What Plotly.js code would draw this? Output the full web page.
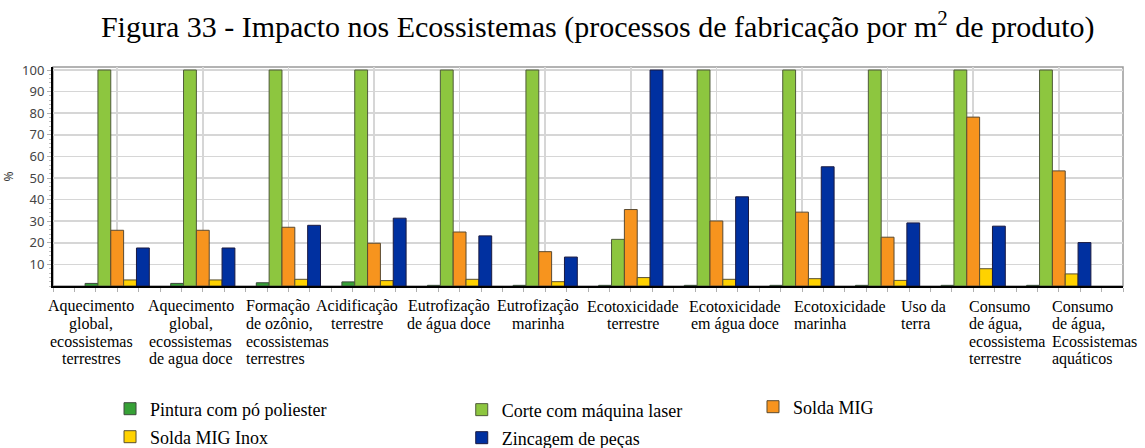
<!DOCTYPE html>
<html><head><meta charset="utf-8">
<script src="https://cdn.plot.ly/plotly-3.0.1.min.js"></script>
<style>html,body{margin:0;padding:0;background:#fff}</style>
</head><body><div id="chart" style="width:1145px;height:448px"></div>
<script>
// ---- data ----
const categories = [
  "Aquecimento global, ecossistemas terrestres",
  "Aquecimento global, ecossistemas de agua doce",
  "Formação de ozônio, ecossistemas terrestres",
  "Acidificação terrestre",
  "Eutrofização de água doce",
  "Eutrofização marinha",
  "Ecotoxicidade terrestre",
  "Ecotoxicidade em água doce",
  "Ecotoxicidade marinha",
  "Uso da terra",
  "Consumo de água, ecossistema terrestre",
  "Consumo de água, Ecossistemas aquáticos"
];
const tickLabelLines = [
  ["Aquecimento","global,","ecossistemas","terrestres"],
  ["Aquecimento","global,","ecossistemas","de agua doce"],
  ["Formação","de ozônio,","ecossistemas","terrestres"],
  ["Acidificação","terrestre"],
  ["Eutrofização","de água doce"],
  ["Eutrofização","marinha"],
  ["Ecotoxicidade","terrestre"],
  ["Ecotoxicidade","em água doce"],
  ["Ecotoxicidade","marinha"],
  ["Uso da","terra"],
  ["Consumo","de água,","ecossistema","terrestre"],
  ["Consumo","de água,","Ecossistemas","aquáticos"]
];
const seriesNames = ["Pintura com pó poliester","Corte com máquina laser","Solda MIG","Solda MIG Inox","Zincagem de peças"];
const pinturaPo    = [1.2, 1.2, 1.5, 1.9, 0.3, 0.3, 0.3, 0.3, 0.3, 0.3, 0.3, 0.3];
const corteLaser   = [100, 100, 100, 100, 100, 100, 21.6, 100, 100, 100, 100, 100];
const soldaMIG     = [25.8, 25.8, 27.2, 19.8, 25.0, 15.9, 35.4, 30.1, 34.2, 22.6, 78.2, 53.3];
const soldaMIGInox = [2.8, 2.8, 3.1, 2.5, 3.1, 2.0, 3.9, 3.1, 3.4, 2.6, 8.0, 5.6];
const zincagem     = [17.6, 17.6, 28.1, 31.4, 23.2, 13.4, 100, 41.3, 55.2, 29.2, 27.7, 20.1];
const yTickVals = [10, 20, 30, 40, 50, 60, 70, 80, 90, 100];

// ---- styling ----
const colors = ["#36a136", "#8dc63f", "#f7941e", "#ffd200", "#0030a0"];
const lineColors = ["#3d4a3d", "#4f5a3a", "#5a4a30", "#5a5030", "#1a1a40"];
const labelShift = [-26, -12, -44, -17, -11, -7, 2, 19, -10, 11, -6, -9];
const labelAnchor = ["center","center","left","center","center","center","center","center","left","left","left","left"];
// legend placement (paper coordinates) for each series
const legendPos = [[0.0533, -0.5616], [0.382, -0.566], [0.6542, -0.5525], [0.0533, -0.6895], [0.382, -0.694]];

const xIdx = categories.map((c, i) => i);
const seriesValues = [pinturaPo, corteLaser, soldaMIG, soldaMIGInox, zincagem];
const serif = "Liberation Serif, Times New Roman, serif";
const legendKey = s => (s === 0 ? "legend" : "legend" + (s + 1));

const traces = seriesValues.map((vals, s) => ({
  type: "bar",
  name: seriesNames[s],
  x: xIdx,
  y: vals,
  marker: {color: colors[s], line: {color: lineColors[s], width: 1}},
  legend: legendKey(s),
  hoverinfo: "x+y+name"
}));

const annotations = [];
tickLabelLines.forEach((lines, i) => {
  lines.forEach((t, k) => {
    annotations.push({
      x: xIdx[i], xref: "x", y: 0, yref: "paper",
      xanchor: labelAnchor[i], yanchor: "middle",
      xshift: labelShift[i], yshift: -(20 + k * 17.5),
      text: t, showarrow: false,
      font: {family: serif, size: 16, color: "#000"}
    });
  });
});

const layout = {
  width: 1145, height: 448,
  margin: {l: 53, r: 22, t: 67, b: 162, autoexpand: false},
  paper_bgcolor: "#fff", plot_bgcolor: "#fff",
  title: {
    text: "Figura 33 - Impacto nos Ecossistemas (processos de fabricação por m<sup>2</sup> de produto)",
    font: {family: serif, size: 30, color: "#000"},
    x: 0.522, xref: "container", xanchor: "center",
    y: 0.94, yref: "container", yanchor: "middle"
  },
  barmode: "group", bargap: 0.25, bargroupgap: 0,
  xaxis: {
    type: "linear", range: [-0.75, 11.75],
    tickmode: "array", tickvals: xIdx, showticklabels: false,
    showgrid: true, gridcolor: "#d6d6d6", gridwidth: 1.5,
    zeroline: false,
    showline: true, linecolor: "#000", linewidth: 2,
    ticks: "outside", ticklen: 4, tickcolor: "#b0b0b0", tickwidth: 1,
    minor: {tickmode: "linear", tick0: 0, dtick: 0.25, ticks: "outside", ticklen: 4, tickcolor: "#b0b0b0", showgrid: false},
    automargin: false, fixedrange: true
  },
  yaxis: {
    range: [0, 101.4],
    tickmode: "array", tickvals: yTickVals,
    tickfont: {family: "Noto Sans, Open Sans, sans-serif", size: 13, color: "#444"},
    showgrid: true, gridcolor: "#d6d6d6", gridwidth: 1.5,
    zeroline: false,
    showline: true, linecolor: "#000", linewidth: 2,
    ticks: "outside", ticklen: 4, tickcolor: "#b0b0b0",
    minor: {tickmode: "linear", tick0: 0, dtick: 2, ticks: "outside", ticklen: 2, tickcolor: "#c0c0c0", showgrid: false},
    title: {text: "%", font: {family: "Noto Sans, sans-serif", size: 12, color: "#333"}, standoff: 10},
    automargin: false, fixedrange: true
  },
  shapes: [{
    type: "rect", xref: "paper", yref: "paper", x0: 0, x1: 1, y0: 0, y1: 1,
    line: {color: "#9a9a9a", width: 1.5}, layer: "below"
  }],
  annotations: annotations,
  showlegend: true
};
legendPos.forEach((p, s) => {
  layout[legendKey(s)] = {
    x: p[0], y: p[1], xanchor: "left", yanchor: "middle",
    bgcolor: "rgba(0,0,0,0)", borderwidth: 0,
    font: {family: serif, size: 18, color: "#000"}
  };
});

Plotly.newPlot("chart", traces, layout, {displayModeBar: false, staticPlot: true});
</script>
</body></html>
